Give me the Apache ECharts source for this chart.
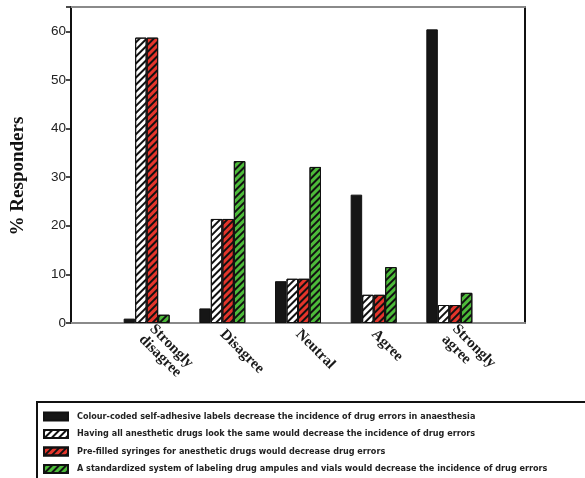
<!DOCTYPE html>
<html><head><meta charset="utf-8">
<script src="https://cdn.jsdelivr.net/npm/echarts@6/dist/echarts.min.js"></script>
<style>html,body{margin:0;padding:0;background:#fff}#c{width:585px;height:478px}</style>
</head><body><div id="c"></div>
<script>
var categories = ['', 'Strongly\ndisagree', 'Disagree', 'Neutral', 'Agree', 'Strongly\nagree', ''];
var seriesNames = [
  'Colour-coded self-adhesive labels decrease the incidence of drug errors in anaesthesia',
  'Having all anesthetic drugs look the same would decrease the incidence of drug errors',
  'Pre-filled syringes for anesthetic drugs would decrease drug errors',
  'A standardized system of labeling drug ampules and vials would decrease the incidence of drug errors'
];
var colourCoded = [null, 0.9, 3.0, 8.6, 26.4, 60.4, null];
var allSame = [null, 58.7, 21.4, 9.1, 5.8, 3.7, null];
var preFilled = [null, 58.7, 21.4, 9.1, 5.8, 3.7, null];
var standardized = [null, 1.7, 33.3, 32.1, 11.5, 6.2, null];
var yTicks = [0, 10, 20, 30, 40, 50, 60];

var fills = ['#161616', '#ffffff', '#e5352b', '#4dbb3a'];
var dataSets = [colourCoded, allSame, preFilled, standardized];
var hatch = {symbol: 'rect', symbolSize: 1, color: '#111', dashArrayX: [1, 0], dashArrayY: [2, 2.5], rotation: -Math.PI / 4};

var chart = echarts.init(document.getElementById('c'), null, {renderer: 'canvas'});
var series = dataSets.map(function (d, i) {
  var style = {color: fills[i], borderColor: '#111', borderWidth: 1};
  if (i > 0) style.decal = hatch;
  return {
    name: seriesNames[i], type: 'bar', data: d, barWidth: 11.5, barGap: '0%',
    itemStyle: style, emphasis: {disabled: true}, xAxisIndex: 0, yAxisIndex: 0
  };
});
chart.setOption({
  animation: false,
  grid: {left: 71, right: 60, top: 7, bottom: 155, containLabel: false},
  xAxis: [{
    type: 'category', data: categories, boundaryGap: false,
    axisLine: {onZero: false, lineStyle: {color: '#8a8a8a', width: 2}},
    axisTick: {show: false},
    axisLabel: {
      rotate: -45, margin: 9, interval: 0,
      fontFamily: 'Liberation Serif, Times New Roman, serif', fontWeight: 'bold', fontSize: 15, color: '#1a1a1a',
      lineHeight: 15
    }
  }, {
    type: 'category', data: categories, boundaryGap: false, position: 'top',
    axisLine: {onZero: false, lineStyle: {color: '#8a8a8a', width: 2}}, axisTick: {show: false}, axisLabel: {show: false}
  }],
  yAxis: [{
    type: 'value', min: 0, max: 65, interval: 10,
    axisLine: {show: true, onZero: false, lineStyle: {color: '#111', width: 2}},
    axisTick: {show: true, inside: false, length: 5, lineStyle: {color: '#111', width: 1.5}},
    axisLabel: {
      margin: 5, fontFamily: 'Liberation Sans, Arial, sans-serif', fontSize: 13.5, color: '#222',
      formatter: function (v) { return yTicks.indexOf(v) >= 0 ? String(v) : ''; }
    },
    splitLine: {show: false}
  }, {
    type: 'value', min: 0, max: 65, interval: 10, position: 'right',
    axisLine: {show: true, onZero: false, lineStyle: {color: '#111', width: 2}},
    axisTick: {show: false}, axisLabel: {show: false}, splitLine: {show: false}
  }],
  legend: {
    orient: 'vertical', left: 43, top: 411, height: 120, itemWidth: 24, itemHeight: 8, itemGap: 6.5,
    icon: 'rect', selectedMode: false, padding: 0,
    textStyle: {fontFamily: 'Liberation Sans Narrow, DejaVu Sans Condensed, Arial Narrow, sans-serif', fontWeight: 'bold', fontSize: 9, lineHeight: 11, color: '#222', padding: [0, 0, 0, 4]},
    data: seriesNames
  },
  graphic: [
    {type: 'rect', shape: {x: 37, y: 402, width: 600, height: 100}, style: {fill: 'none', stroke: '#111', lineWidth: 2}, silent: true},
    {type: 'text', x: 18, y: 176, rotation: Math.PI / 2,
     style: {text: '% Responders', fontFamily: 'Liberation Serif, Times New Roman, serif', fontWeight: 'bold', fontSize: 19, fill: '#111', align: 'center', verticalAlign: 'middle'}}
  ],
  series: series
});
</script></body></html>
